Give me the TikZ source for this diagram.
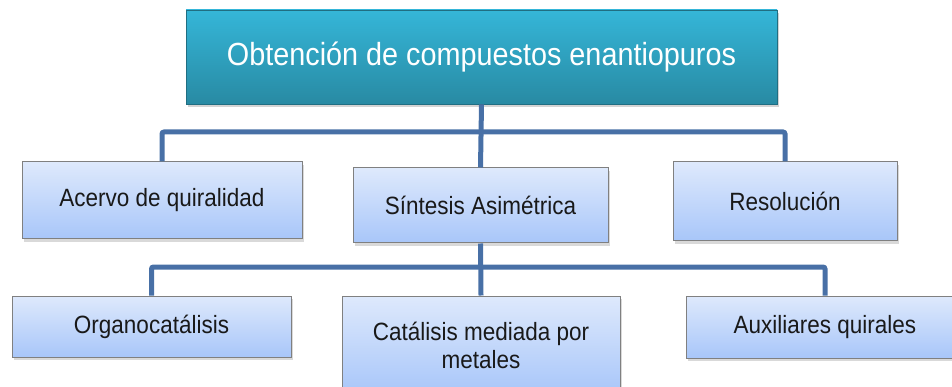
\documentclass[tikz,border=0pt]{standalone}
\usepackage{fontspec}
\usepackage{xcolor}
\usetikzlibrary{shadows}
\newfontfamily\narrowfont{Liberation Sans}[FakeStretch=0.9]
\definecolor{titletop}{RGB}{53,182,216}
\definecolor{titlebot}{RGB}{40,138,163}
\definecolor{boxtop}{RGB}{222,233,252}
\definecolor{boxbot}{RGB}{168,198,249}
\definecolor{linkblue}{RGB}{72,112,166}

\begin{document}
\begin{tikzpicture}[
    x=1pt, y=-1pt,
    titlebox/.style={top color=titletop, bottom color=titlebot, draw=titlebot!80!black, line width=0.6pt,
        drop shadow={shadow xshift=2pt, shadow yshift=-3pt, opacity=0.35},
        text=white, font=\narrowfont\fontsize{32}{36}\selectfont, inner sep=0pt},
    subbox/.style={top color=boxtop, bottom color=boxbot, draw=black!50, line width=1pt,
        drop shadow={shadow xshift=2pt, shadow yshift=-3pt, opacity=0.3},
        text=black!90, font=\narrowfont\fontsize{25}{28}\selectfont, align=center, inner sep=0pt},
    link/.style={draw=linkblue, line width=5pt, rounded corners=2pt}
]
\useasboundingbox (0,0) rectangle (952,387);

% Title
\node[titlebox, minimum width=591pt, minimum height=94pt] (titulo) at (481.5,57) {Obtención de compuestos enantiopuros};

% Second level
\node[subbox, minimum width=280pt, minimum height=77pt] (acervo) at (162,200.5) {Acervo de quiralidad};
\node[subbox, minimum width=255pt, minimum height=75pt] (sintesis) at (480.5,205.5) {Síntesis Asimétrica};
\node[subbox, minimum width=224pt, minimum height=79pt] (resolucion) at (785,201.5) {Resolución};

% Third level
\node[subbox, minimum width=279pt, minimum height=61pt] (organo) at (151.5,326.5) {Organocatálisis};
\node[subbox, minimum width=278pt, minimum height=98pt] (metales) at (481,345) {Catálisis mediada por\\metales};
\node[subbox, minimum width=278pt, minimum height=62pt] (auxiliares) at (825,327) {Auxiliares quirales};

% Links
\coordinate (bus1) at (481,132);
\coordinate (bus2) at (480,267);
\draw[link] (titulo.south) -- (sintesis.north);
\draw[link] (acervo.north) |- (bus1) -| (resolucion.north);
\draw[link] (sintesis.south) -- (metales.north);
\draw[link] (organo.north) |- (bus2) -| (auxiliares.north);
\end{tikzpicture}
\end{document}
